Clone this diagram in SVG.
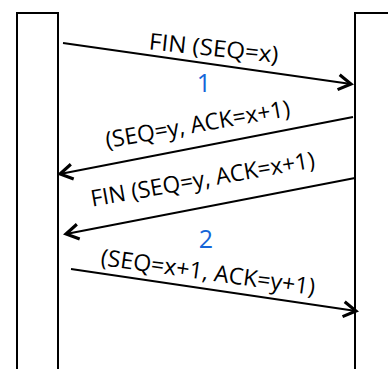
<svg xmlns="http://www.w3.org/2000/svg" width="388" height="369" viewBox="0 0 388 369">
<style>
.box{fill:#fff;stroke:#000;stroke-width:2}
.ln{stroke:#000;stroke-width:2;fill:none;marker-end:url(#ah)}
.lb{font-family:"Open Sans",sans-serif;font-size:23px;fill:#000;text-anchor:middle}
.num{font-family:"Open Sans",sans-serif;font-size:25px;fill:#1565d8;text-anchor:middle}
</style>
<defs>
<marker id="ah" markerUnits="userSpaceOnUse" markerWidth="20" markerHeight="20" viewBox="-12 -8 14 16" refX="0" refY="0" orient="auto">
<path d="M-10,-6 L0,0 L-10,6" fill="none" stroke="#000" stroke-width="2.5" stroke-linejoin="miter"/>
</marker>
</defs>
<rect width="388" height="369" fill="#fff"/>
<g id="clientNode"><rect class="box" x="17" y="13" width="41" height="370"/></g>
<g id="serverNode"><rect class="box" x="355" y="13" width="50" height="370"/></g>
<g id="connectors">
<line class="ln" x1="63" y1="43" x2="351" y2="84"/>
<line class="ln" x1="353" y1="117" x2="60" y2="174"/>
<line class="ln" x1="355" y1="178" x2="66" y2="234"/>
<line class="ln" x1="71" y1="269" x2="356" y2="311"/>
</g>
<g id="labels">
<text class="lb" transform="translate(213,56) rotate(6)" textLength="130" lengthAdjust="spacingAndGlyphs">FIN (SEQ=x)</text>
<text class="num" x="204" y="92">1</text>
<text class="lb" transform="translate(199,132) rotate(-10)" textLength="187" lengthAdjust="spacingAndGlyphs">(SEQ=y, ACK=x+1)</text>
<text class="lb" transform="translate(204,187) rotate(-10)" textLength="227" lengthAdjust="spacingAndGlyphs">FIN (SEQ=y, ACK=x+1)</text>
<text class="num" x="206" y="248">2</text>
<text class="lb" transform="translate(207,280) rotate(8)" textLength="216" lengthAdjust="spacingAndGlyphs">(SEQ=x+1, ACK=y+1)</text>
</g>
</svg>
